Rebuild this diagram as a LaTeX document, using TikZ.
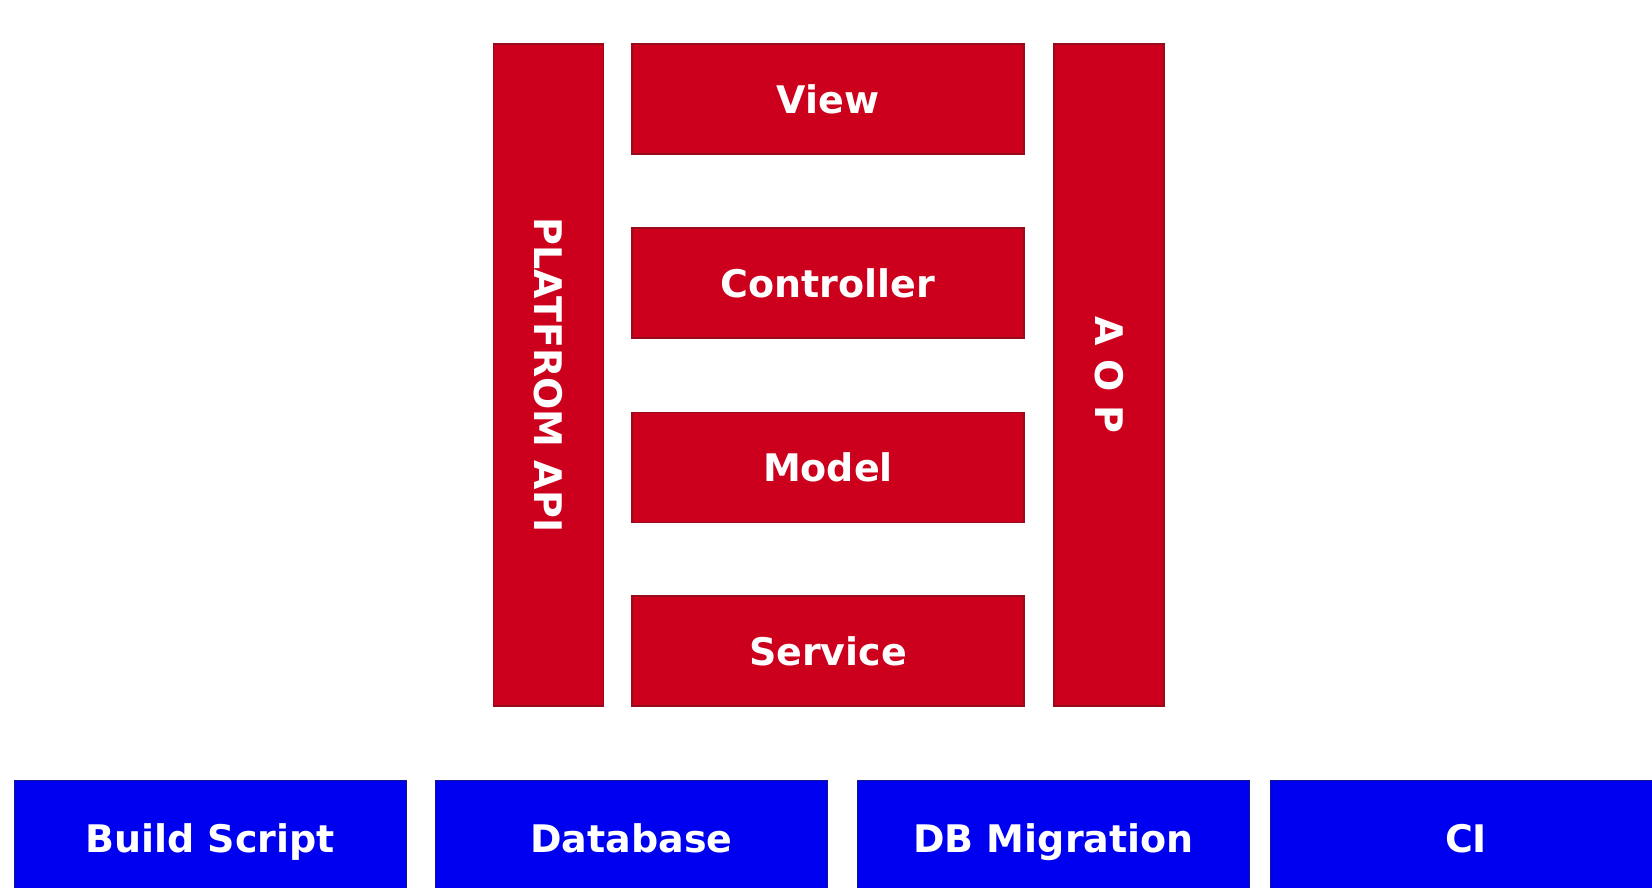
\documentclass[tikz,border=0pt]{standalone}
\usepackage{fontspec}
\setmainfont{DejaVu Sans}
\definecolor{boxred}{RGB}{204,0,28}
\definecolor{edgered}{RGB}{150,10,25}
\definecolor{boxblue}{RGB}{0,0,240}
\definecolor{edgeblue}{RGB}{20,20,150}
\begin{document}
\begin{tikzpicture}[x=1pt,y=-1pt,
  labeltext/.style={text=white, font=\fontsize{38}{40}\selectfont\bfseries, text height=28pt, text depth=0pt},
  redbox/.style={rectangle, fill=boxred, draw=edgered, line width=1.2pt, inner sep=0pt, labeltext},
  layerbox/.style={redbox, minimum width=392pt, minimum height=110pt},
  sidebox/.style={redbox, minimum width=110pt, minimum height=662pt},
  bluebox/.style={rectangle, fill=boxblue, draw=edgeblue, line width=1pt, inner sep=0pt,
    minimum width=392pt, minimum height=116pt, labeltext}]
\useasboundingbox (0,0) rectangle (1652,887);
\fill[white] (0,0) rectangle (1652,887);
\clip (0,0) rectangle (1652,887);
\node[sidebox] (platform) at (548.5,375) {};
\node[rotate=-90, labeltext, inner sep=0pt] (platformtext) at (platform.center) {PLATFROM API};
\node[sidebox] (aop) at (1109,375) {};
\node[rotate=-90, labeltext, inner sep=0pt] (aoptext) at (aop.center) {A O P};
\node[layerbox] (view) at (828,99) {View};
\node[layerbox] (controller) at (828,283) {Controller};
\node[layerbox] (model) at (828,467.5) {Model};
\node[layerbox] (service) at (828,651) {Service};
\node[bluebox] (build) at (210,838) {Build Script};
\node[bluebox] (database) at (631.5,838) {Database};
\node[bluebox] (dbmig) at (1053.5,838) {DB Migration};
\node[bluebox] (ci) at (1466,838) {CI};
\end{tikzpicture}
\end{document}
